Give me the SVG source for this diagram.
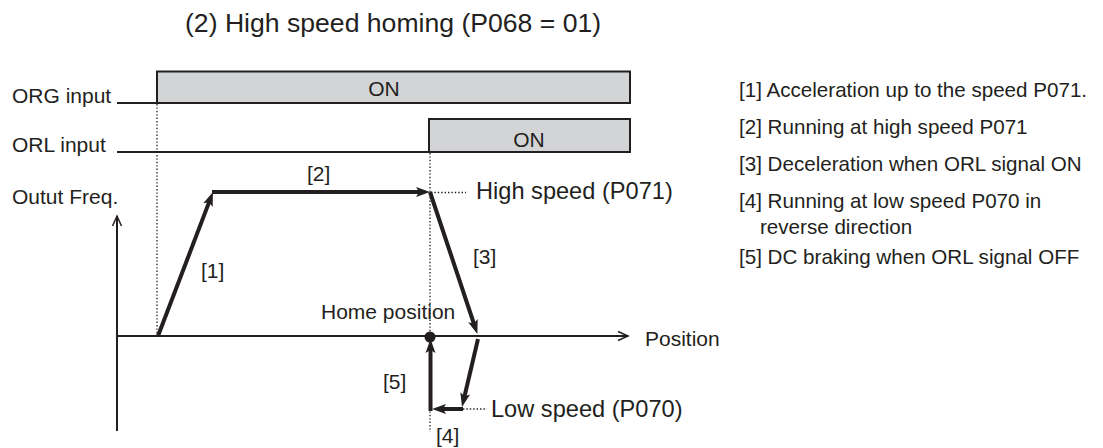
<svg xmlns="http://www.w3.org/2000/svg" width="1103" height="448" viewBox="0 0 1103 448">
<style>
text{font-family:"Liberation Sans",Arial,Helvetica,sans-serif;fill:#231f20}
.t21{font-size:21px}
.t20{font-size:20.6px}
.t24{font-size:23.6px}
.sig{fill:#d3d4d6;stroke:#231f20;stroke-width:2}
.base{stroke:#231f20;stroke-width:2;fill:none}
.dot{stroke:#231f20;stroke-width:1.3;stroke-dasharray:1.4 2;fill:none}
.thick{stroke:#231f20;stroke-width:4;fill:none;marker-end:url(#ah)}
.axis{stroke:#231f20;stroke-width:2;fill:none;marker-end:url(#oa)}
</style>
<defs>
<marker id="ah" markerUnits="userSpaceOnUse" markerWidth="14" markerHeight="10" refX="4" refY="5" orient="auto" overflow="visible">
<path d="M0,0 L14,5 L0,10 L3,5 z" fill="#231f20"/>
</marker>
<marker id="oa" markerUnits="userSpaceOnUse" markerWidth="12" markerHeight="10" refX="10" refY="5" orient="auto" overflow="visible">
<path d="M0,0.5 L10,5 L0,9.5" fill="none" stroke="#231f20" stroke-width="1.5"/>
</marker>
</defs>

<text id="title" x="185" y="32" style="font-size:26.6px">(2) High speed homing (P068 = 01)</text>

<g id="org-signal">
<line class="base" x1="117" y1="103" x2="157" y2="103"/>
<rect class="sig" x="157" y="71.5" width="473" height="31.5"/>
<text class="t21" x="12" y="103">ORG input</text>
<text class="t21" x="384" y="96" text-anchor="middle">ON</text>
</g>

<g id="orl-signal">
<line class="base" x1="117" y1="152" x2="429" y2="152"/>
<rect class="sig" x="429" y="119" width="201" height="33"/>
<text class="t21" x="12" y="152">ORL input</text>
<text class="t21" x="529" y="147" text-anchor="middle">ON</text>
</g>

<g id="axes">
<line class="axis" x1="117" y1="336" x2="628" y2="336"/>
<line class="axis" x1="117" y1="431" x2="117" y2="216"/>
<text class="t21" x="12" y="204">Outut Freq.</text>
<text class="t21" x="645" y="346">Position</text>
</g>

<g id="guides">
<line class="dot" x1="157" y1="104" x2="157" y2="334"/>
<line class="dot" x1="430" y1="153" x2="430" y2="432"/>
<line class="dot" x1="431" y1="192.5" x2="466" y2="192.5"/>
<line class="dot" x1="463" y1="409" x2="487" y2="409"/>
</g>

<g id="connectors">
<line class="thick" x1="158" y1="336" x2="209.4" y2="201.4"/>
<line class="thick" x1="212" y1="192" x2="420" y2="192"/>
<line class="thick" x1="430" y1="192" x2="474.2" y2="324.5"/>
<line class="thick" x1="478" y1="339" x2="464.3" y2="397.3"/>
<line class="thick" x1="463" y1="409" x2="442" y2="409"/>
<line class="thick" x1="430.5" y1="411" x2="430.5" y2="349"/>
</g>

<g id="home">
<circle cx="430" cy="337" r="5.5" fill="#231f20"/>
<text class="t21" x="321" y="319">Home position</text>
</g>

<g id="step-labels">
<text class="t21" x="201" y="278">[1]</text>
<text class="t21" x="307" y="181">[2]</text>
<text class="t21" x="473" y="264">[3]</text>
<text class="t21" x="436" y="443">[4]</text>
<text class="t21" x="383" y="389">[5]</text>
</g>

<g id="speed-labels">
<text class="t24" x="476" y="198.5">High speed (P071)</text>
<text class="t24" x="491" y="417">Low speed (P070)</text>
</g>

<g id="legend">
<text class="t20" x="739" y="97">[1] Acceleration up to the speed P071.</text>
<text class="t20" x="739" y="134">[2] Running at high speed P071</text>
<text class="t20" x="739" y="171">[3] Deceleration when ORL signal ON</text>
<text class="t20" x="739" y="208">[4] Running at low speed P070 in</text>
<text class="t20" x="760" y="234">reverse direction</text>
<text class="t20" x="739" y="264">[5] DC braking when ORL signal OFF</text>
</g>
</svg>
